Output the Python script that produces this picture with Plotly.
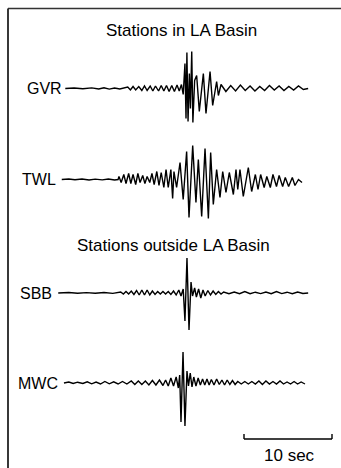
import plotly.graph_objects as go

# ---------------- data (time in seconds, amplitude in arbitrary units) ----------------
stations = ["GVR", "TWL", "SBB", "MWC"]

gvr_t = [0.6, 1.6, 2.6, 3.6, 4.4, 5.0, 5.6, 6.2, 6.8, 7.4, 7.7, 8.0, 8.3, 8.6, 8.95, 9.3, 9.6, 9.9,
         10.25, 10.55, 10.85, 11.2, 11.5, 11.8, 12.1, 12.4, 12.7, 13.0, 13.3, 13.55, 13.8, 14.0,
         14.2, 14.32, 14.42, 14.55, 14.7, 14.82, 14.97, 15.1, 15.3, 15.53, 15.83, 16.29, 16.59,
         17.05, 17.35, 17.8, 18.0, 18.3, 18.85, 19.4, 19.95, 20.5, 21.05, 21.6, 22.15, 22.7,
         23.25, 23.8, 24.35, 24.9, 25.45, 26.0, 26.55, 27.1, 27.65, 28.2]
gvr_a = [0, 0.5, -0.3, 0.6, -0.5, 0.8, -0.6, 0.5, -0.5, 0.4, 1.5, -1.5, 2, -1.5, 2, -2, 2.5, -2,
         2.5, -2.5, 2.5, -2.5, 3, -2.5, 3, -3, 3, -3, 3.5, -2.5, 4, -6,
         25, -30, 36, -33, 15, -20, 37, -34, 8, 13, -23, 15, -25,
         17, -17, 7, -7, 4, -3, 3, -2.5, 3.5, -2, 2.5, -2.5, 2,
         -2, 3, -1.5, 2.5, -2, 2, -1.5, 2.5, -1, 0]

twl_t = [0.2, 1.0, 1.7, 2.5, 3.3, 4.0, 4.8, 5.5, 6.2, 6.6, 6.7, 6.95, 7.25, 7.5, 7.8, 8.05, 8.3,
         8.6, 8.85, 9.1, 9.4, 9.65, 9.9, 10.2, 10.45, 10.7, 11.0, 11.25, 11.5, 11.8, 12.05, 12.3,
         12.6, 12.8, 12.95, 13.25, 13.64, 14.0, 14.39, 14.66, 15.08, 15.45, 15.72, 16.1, 16.48,
         16.86, 17.12, 17.42, 17.8, 18.18, 18.49, 18.86, 19.24, 19.7, 20.0, 20.2, 20.45, 20.83,
         21.4, 21.78, 22.2, 22.5, 22.8, 23.2, 23.5, 23.9, 24.2, 24.6, 24.9, 25.3, 25.6, 25.98,
         26.4, 26.7, 27.1, 27.5]
twl_a = [0, 0.5, -0.3, 0.5, -0.5, 0.4, -0.4, 0.5, -0.5, 0, 3, -3, 5, -4, 6, -4, 5,
         -5, 6, -3, 4, -4, 3, -3, 6, -5, 8, -6, 7, -8, 10, -8,
         10, -19, 8, -8, 17, -20, 28, -38, 34, -23, 20, -37, 31,
         -39, 27, -25, 10, -18, 8, -13, 7, -15, 10, -10, 10, -17,
         12, -12, 5, -10, 5, -8, 3, -8, 5, -7, 4, -7, 2, -7,
         2, -6, 0, -3]

sbb_t = [-0.2, 1.0, 2.0, 3.0, 4.0, 5.0, 6.0, 6.6, 6.9, 7.2, 7.5, 7.8, 8.1, 8.4, 8.7, 9.0, 9.3,
         9.6, 9.9, 10.2, 10.5, 10.8, 11.1, 11.4, 11.7, 12.0, 12.3, 12.6, 12.9, 13.2, 13.5, 13.75,
         14.0, 14.2, 14.43, 14.66, 14.89, 15.06, 15.3, 15.5, 15.75, 16.0, 16.25, 16.5, 16.8,
         17.1, 17.4, 17.7, 18.0, 18.3, 18.6, 19.2, 19.8, 20.4, 21.0, 21.6, 22.2, 22.8, 23.4,
         24.0, 24.6, 25.2, 25.8, 26.4, 27.0, 27.6, 28.2]
sbb_a = [0, 0.5, -0.3, 0.4, -0.3, 0.5, -0.4, 0.3, 1, -1, 1.5, -1, 2, -1.5, 2.5, -2, 3,
         -2, 3, -2, 2, -1.5, 1.5, -1, 1.5, -1, 1.5, -1.5, 2, -2, 3, -3,
         4, -28, 35, -37, 11, -3, 5, -4, 4, -5, 3, -3, 2.5,
         -2, 2, -1.5, 1.5, -1, 1, -0.7, 1, -0.7, 1.5, -0.7, 0.8, -0.6, 1,
         -0.7, 1.5, -0.6, 0.8, -0.7, 1, -0.5, 0]

mwc_t = [0.45, 1.0, 1.5, 2.0, 2.6, 3.1, 3.6, 4.1, 4.6, 5.1, 5.6, 6.1, 6.6, 7.1, 7.6, 8.1, 8.5,
         8.9, 9.3, 9.7, 10.1, 10.5, 10.9, 11.3, 11.7, 12.0, 12.3, 12.6, 12.9, 13.2, 13.45, 13.6,
         13.75, 13.98, 14.2, 14.43, 14.6, 14.8, 15.0, 15.2, 15.45, 15.7, 15.95, 16.2, 16.45,
         16.7, 16.95, 17.2, 17.5, 17.8, 18.1, 18.4, 18.7, 19.0, 19.3, 19.6, 19.9, 20.2, 20.6,
         21.0, 21.4, 21.8, 22.2, 22.6, 23.0, 23.4, 23.8, 24.2, 24.6, 25.0, 25.4, 25.8, 26.2,
         26.6, 27.0, 27.4, 27.84]
mwc_a = [0, 1, -0.5, 0.8, -0.5, 1.2, -0.8, 1, -1, 1.5, -0.8, 1.2, -1, 1.5, -1, 2, -1.5,
         2, -1.5, 2, -2, 2.5, -2, 3, -2.5, 3, -3, 5, -3, 6, -5, 8,
         -39, 31, -43, 12, -3, 10, -4, 6, -3, 5, -2, 4, -2,
         4, -2, 3.5, -2, 4, -1.5, 3, -2, 3, -1.5, 2.5, -1.5, 1.5, -1,
         1.5, -1, 1.5, -1, 2, -1.5, 2, -1, 1.5, -1, 2, -1, 1, -1,
         1.5, -1, 1, -1]

titles = ["Stations in LA Basin", "Stations outside LA Basin"]
scale_sec = 10
scale_label = "10 sec"

# ---------------- layout constants (pixels) ----------------
W, H = 341, 468
PX_PER_SEC = 8.8
T0_PX = 60                       # pixel column of t = 0
baselines_px = [88.5, 179.5, 293, 383]
half_px = 45                     # half height of each trace band
label_right_px = [64, 58, 54, 60]
FONT = "Liberation Sans, Arial, Helvetica, sans-serif"

series = [(gvr_t, gvr_a), (twl_t, twl_a), (sbb_t, sbb_a), (mwc_t, mwc_a)]

fig = go.Figure()
layout_axes = {}
for i, (name, (t, a)) in enumerate(zip(stations, series)):
    yname = "y" if i == 0 else f"y{i + 1}"
    fig.add_trace(go.Scatter(x=t, y=a, mode="lines", yaxis=yname, name=name,
                             line=dict(color="black", width=1.4), hoverinfo="skip",
                             showlegend=False))
    b = baselines_px[i]
    dom = [1 - (b + half_px) / H, 1 - (b - half_px) / H]
    key = "yaxis" if i == 0 else f"yaxis{i + 1}"
    layout_axes[key] = dict(domain=dom, range=[-half_px, half_px], visible=False,
                            fixedrange=True, anchor="x")
    fig.add_annotation(text=name, xref="paper", yref=yname, x=label_right_px[i] / W, y=0,
                       xanchor="right", yanchor="middle", showarrow=False,
                       font=dict(family=FONT, size=16, color="black"))

x_range = [-T0_PX / PX_PER_SEC, (W - T0_PX) / PX_PER_SEC]

# titles
for txt, cx, cy in zip(titles, [181, 173], [31, 245]):
    fig.add_annotation(text=txt, xref="paper", yref="paper", x=cx / W, y=1 - cy / H,
                       xanchor="center", yanchor="middle", showarrow=False,
                       font=dict(family=FONT, size=17, color="black"))

# scale bar (in data seconds)
bar_end = (332 - T0_PX) / PX_PER_SEC
bar_start = bar_end - scale_sec
bar_y = 1 - 439 / H
tick_y = 1 - 434 / H
shapes = [
    dict(type="line", xref="x", yref="paper", x0=bar_start, x1=bar_end, y0=bar_y, y1=bar_y,
         line=dict(color="black", width=1.4)),
    dict(type="line", xref="x", yref="paper", x0=bar_start, x1=bar_start, y0=bar_y, y1=tick_y,
         line=dict(color="black", width=1.4)),
    dict(type="line", xref="x", yref="paper", x0=bar_end, x1=bar_end, y0=bar_y, y1=tick_y,
         line=dict(color="black", width=1.4)),
    # frame (top and left edges)
    dict(type="line", xref="paper", yref="paper", x0=8 / W, x1=1, y0=1 - 8.5 / H, y1=1 - 8.5 / H,
         line=dict(color="#333333", width=1.5)),
    dict(type="line", xref="paper", yref="paper", x0=8 / W, x1=8 / W, y0=0, y1=1 - 8.5 / H,
         line=dict(color="#222222", width=1.8)),
]
fig.add_annotation(text=scale_label, xref="x", yref="paper", x=(bar_start + bar_end) / 2 + 0.2,
                   y=1 - 455 / H, xanchor="center", yanchor="middle", showarrow=False,
                   font=dict(family=FONT, size=17, color="black"))

fig.update_layout(
    width=W, height=H, margin=dict(l=0, r=0, t=0, b=0),
    paper_bgcolor="white", plot_bgcolor="white",
    xaxis=dict(domain=[0, 1], range=x_range, visible=False, fixedrange=True),
    shapes=shapes,
    **layout_axes,
)

fig.write_html("out.html", config={"displayModeBar": False})
